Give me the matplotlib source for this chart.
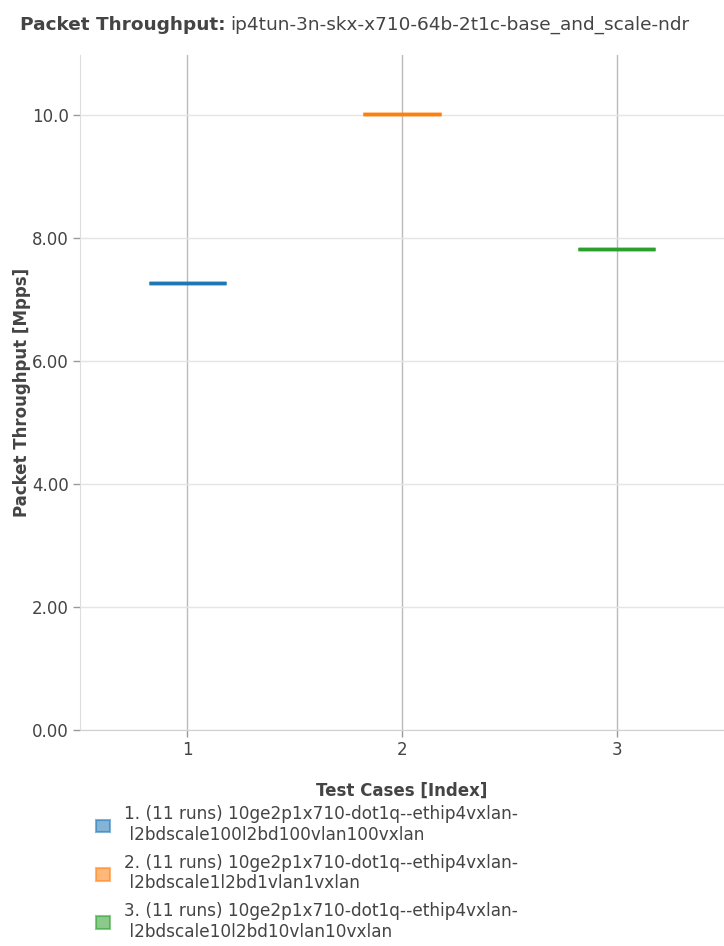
import matplotlib.pyplot as plt
from matplotlib.patches import Patch

cases = [1, 2, 3]
throughput = [7.27, 10.02, 7.82]
colors = ["#1f77b4", "#ff7f0e", "#2ca02c"]
labels = [
    "1. (11 runs) 10ge2p1x710-dot1q--ethip4vxlan-\n l2bdscale100l2bd100vlan100vxlan",
    "2. (11 runs) 10ge2p1x710-dot1q--ethip4vxlan-\n l2bdscale1l2bd1vlan1vxlan",
    "3. (11 runs) 10ge2p1x710-dot1q--ethip4vxlan-\n l2bdscale10l2bd10vlan10vxlan",
]
yticks = [0, 2, 4, 6, 8, 10]
yticklabels = ["0.00", "2.00", "4.00", "6.00", "8.00", "10.0"]

txt = "#444444"

fig = plt.figure(figsize=(7.24, 9.46), dpi=100)
ax = fig.add_axes([80 / 724, 216 / 946, 644 / 724, 675 / 946])

# one box per test case; all runs gave the same value so each collapses to a line
bp = ax.boxplot([[v] for v in throughput], positions=cases, widths=0.36,
                patch_artist=True, showcaps=False, showfliers=False,
                whis=0, zorder=3)
for i, c in enumerate(colors):
    bp["boxes"][i].set(facecolor=c, edgecolor=c, linewidth=2.5, alpha=1)
    bp["medians"][i].set(color=c, linewidth=2.5)
    bp["whiskers"][2 * i].set(color=c)
    bp["whiskers"][2 * i + 1].set(color=c)

ax.set_xlim(0.5, 3.5)
ax.set_ylim(0, 10.98)
ax.set_xticks(cases)
ax.set_xticklabels([str(c) for c in cases])
ax.set_yticks(yticks)
ax.set_yticklabels(yticklabels)

ax.grid(axis="y", color="#e5e5e5", linewidth=1, zorder=0)
ax.grid(axis="x", color="#bbbbbb", linewidth=1, zorder=0)
ax.set_axisbelow(True)

for s in ["top", "right"]:
    ax.spines[s].set_visible(False)
ax.spines["left"].set_color("#dddddd")
ax.spines["bottom"].set_color("#d0d0d0")
ax.tick_params(axis="both", colors="#999999", labelcolor=txt, labelsize=12,
               length=5, width=1, pad=3)

ax.set_ylabel("Packet Throughput [Mpps]", fontsize=12, fontweight="bold",
              color=txt, labelpad=1)
ax.set_xlabel("Test Cases [Index]", fontsize=12, fontweight="bold",
              color=txt, labelpad=16)

t1 = fig.text(20 / 724, 1 - 25 / 946, "Packet Throughput:", fontsize=13.3,
              fontweight="bold", color=txt, va="center", ha="left")
r = fig.canvas.get_renderer()
bb = t1.get_window_extent(renderer=r)
fig.text((bb.x1 + 5) / 724, 1 - 25 / 946,
         "ip4tun-3n-skx-x710-64b-2t1c-base_and_scale-ndr",
         fontsize=13.3, color=txt, va="center", ha="left")

handles = [Patch(facecolor=c, edgecolor=c, alpha=0.55, linewidth=1.5) for c in colors]
leg = fig.legend(handles, labels, loc="upper left",
                 bbox_to_anchor=(88 / 724, 1 - 797 / 946), frameon=False,
                 fontsize=12.2, labelspacing=0.55, handlelength=0.8,
                 handleheight=0.8, handletextpad=0.8, borderpad=0)
for t in leg.get_texts():
    t.set_color(txt)

fig.savefig("out.png", dpi=100)
